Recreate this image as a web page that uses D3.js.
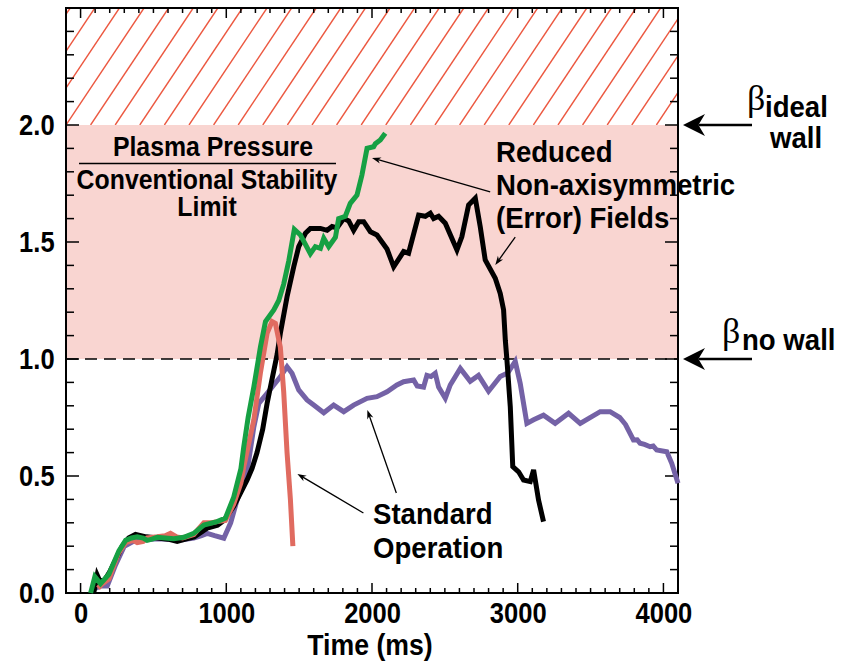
<!DOCTYPE html>
<html>
<head>
<meta charset="utf-8">
<script src="https://cdn.jsdelivr.net/npm/d3@7"></script>
<style>
  body { margin: 0; background: #fff; }
  text { font-family: "Liberation Sans", Arial, Helvetica, sans-serif; font-weight: bold; }
  .beta { font-family: "Liberation Serif", "DejaVu Serif", serif; font-weight: normal; }
</style>
</head>
<body>
<div id="chart"></div>
<script>
// beta / beta_no-wall traces, [time ms, value]
const reducedFields = [[69,0],[98,0.07],[137,0.04],[194,0.08],[263,0.18],[309,0.225],[350,0.235],[389,0.24],[430,0.235],[457,0.225],[490,0.23],[526,0.238],[580,0.235],[640,0.232],[709,0.238],[777,0.255],[846,0.29],[937,0.305],[994,0.32],[1051,0.41],[1100,0.53],[1120,0.625],[1150,0.75],[1189,0.88],[1234,1.05],[1269,1.16],[1326,1.21],[1360,1.25],[1394,1.32],[1429,1.42],[1467,1.554],[1509,1.53],[1577,1.45],[1611,1.48],[1646,1.473],[1669,1.516],[1703,1.48],[1749,1.52],[1771,1.6],[1817,1.61],[1851,1.665],[1897,1.70],[1931,1.786],[1966,1.90],[2011,1.907],[2023,1.92],[2057,1.936],[2091,1.965]];

const reducedFieldsNoWall = [[90,0],[114,0.077],[126,0.06],[160,0.05],[200,0.09],[286,0.2],[330,0.235],[377,0.25],[450,0.24],[530,0.235],[600,0.23],[663,0.22],[720,0.23],[780,0.24],[869,0.277],[940,0.29],[983,0.31],[1051,0.37],[1100,0.43],[1143,0.483],[1177,0.533],[1211,0.6],[1250,0.7],[1280,0.81],[1303,0.88],[1349,1.02],[1371,1.11],[1417,1.266],[1463,1.394],[1497,1.48],[1543,1.537],[1577,1.558],[1646,1.558],[1692,1.55],[1726,1.566],[1760,1.56],[1806,1.6],[1840,1.59],[1874,1.55],[1909,1.587],[1943,1.587],[1989,1.544],[2034,1.53],[2103,1.47],[2149,1.394],[2217,1.459],[2251,1.452],[2320,1.615],[2366,1.61],[2400,1.623],[2423,1.6],[2457,1.61],[2503,1.58],[2583,1.466],[2617,1.523],[2663,1.658],[2709,1.687],[2743,1.565],[2777,1.423],[2846,1.345],[2880,1.28],[2903,1.21],[2915,1.08],[2926,0.996],[2949,0.796],[2966,0.54],[3006,0.518],[3040,0.483],[3086,0.476],[3109,0.526],[3143,0.397],[3177,0.305]];

const standardOp = [[120,0.02],[150,0.04],[195,0.06],[260,0.17],[310,0.215],[360,0.225],[389,0.215],[430,0.22],[457,0.235],[526,0.24],[580,0.245],[617,0.255],[660,0.24],[700,0.235],[777,0.25],[846,0.3],[900,0.3],[937,0.305],[994,0.31],[1051,0.38],[1100,0.47],[1120,0.54],[1189,0.74],[1234,0.94],[1280,1.11],[1314,1.16],[1337,1.152],[1371,1.05],[1394,0.86],[1417,0.6],[1440,0.4],[1457,0.2]];

const standardOpNoWall = [[100,0.02],[140,0.03],[183,0.03],[240,0.12],[300,0.2],[389,0.23],[450,0.228],[530,0.232],[600,0.23],[700,0.228],[777,0.235],[830,0.245],[869,0.255],[920,0.245],[983,0.234],[1030,0.3],[1074,0.397],[1110,0.46],[1143,0.52],[1189,0.71],[1223,0.81],[1280,0.853],[1326,0.889],[1371,0.924],[1417,0.967],[1451,0.939],[1497,0.868],[1554,0.825],[1600,0.803],[1669,0.77],[1737,0.803],[1806,0.775],[1874,0.803],[1966,0.832],[2034,0.839],[2103,0.86],[2171,0.889],[2217,0.903],[2286,0.91],[2310,0.885],[2354,0.88],[2377,0.93],[2405,0.925],[2434,0.939],[2457,0.88],[2503,0.832],[2537,0.889],[2606,0.96],[2674,0.905],[2731,0.93],[2800,0.862],[2880,0.925],[2931,0.94],[2983,0.99],[3017,0.896],[3063,0.725],[3109,0.74],[3177,0.76],[3257,0.725],[3349,0.768],[3429,0.725],[3566,0.775],[3634,0.775],[3700,0.75],[3740,0.72],[3794,0.654],[3820,0.655],[3840,0.64],[3870,0.635],[3909,0.625],[3930,0.628],[3954,0.611],[4023,0.604],[4057,0.554],[4100,0.469]];

const xTicks = [0, 1000, 2000, 3000, 4000];
const yTicks = [0.0, 0.5, 1.0, 1.5, 2.0];
const noWallLimit = 1.0;
const idealWallLimit = 2.0;

const margin = { top: 8, right: 175, bottom: 72, left: 66 };
const width = 853 - margin.left - margin.right;
const height = 665 - margin.top - margin.bottom;

const svg = d3.select("#chart")
  .append("svg")
  .attr("width", 853)
  .attr("height", 665)
  .append("g")
  .attr("transform", `translate(${margin.left},${margin.top})`);

const x = d3.scaleLinear().domain([-100, 4100]).range([0, width]);
const y = d3.scaleLinear().domain([0, 2.5]).range([height, 0]);

// stability regions
svg.append("rect")
  .attr("x", 0).attr("width", width)
  .attr("y", y(idealWallLimit)).attr("height", y(noWallLimit) - y(idealWallLimit))
  .attr("fill", "#f9d5d1");

svg.append("clipPath").attr("id", "hatchClip")
  .append("rect")
  .attr("x", 0).attr("y", 0)
  .attr("width", width).attr("height", y(idealWallLimit));

const hatchH = y(idealWallLimit);
const hatchStep = 24.6;
const hatch = svg.append("g").attr("clip-path", "url(#hatchClip)");
d3.range(-6, 30).forEach(i => {
  const x0 = i * hatchStep;
  hatch.append("line")
    .attr("x1", x0).attr("y1", hatchH)
    .attr("x2", x0 + hatchH / 1.5).attr("y2", 0)
    .attr("stroke", "#ec5840").attr("stroke-width", 1.4);
});

svg.append("line")
  .attr("x1", 0).attr("x2", width)
  .attr("y1", y(noWallLimit)).attr("y2", y(noWallLimit))
  .attr("stroke", "#000").attr("stroke-width", 1.5)
  .attr("stroke-dasharray", "12,7");

// axes, ticks on all four sides pointing inwards
const xMinor = d3.range(0, 4101, 100);
const yMinor = d3.range(0, 2.51, 0.1).map(v => +v.toFixed(1));

function tickLen(isMajor) { return isMajor ? 10 : 5; }

const tickG = svg.append("g").attr("stroke", "#000").attr("stroke-width", 1.5);
xMinor.forEach(t => {
  const len = tickLen(t % 1000 === 0);
  tickG.append("line").attr("x1", x(t)).attr("x2", x(t)).attr("y1", height).attr("y2", height - len);
  tickG.append("line").attr("x1", x(t)).attr("x2", x(t)).attr("y1", 0).attr("y2", len);
});
yMinor.forEach(v => {
  const len = tickLen(Math.abs(v * 2 - Math.round(v * 2)) < 1e-6);
  tickG.append("line").attr("x1", 0).attr("x2", len + 3).attr("y1", y(v)).attr("y2", y(v));
  tickG.append("line").attr("x1", width).attr("x2", width - len - 3).attr("y1", y(v)).attr("y2", y(v));
});

const condensed = 0.88;
svg.append("g")
  .attr("transform", `translate(0,${height})`)
  .call(d3.axisBottom(x).tickValues(xTicks).tickSize(0).tickPadding(9).tickFormat(d3.format("d")))
  .call(g => g.select(".domain").remove())
  .call(g => g.selectAll("text").attr("font-size", 29).attr("fill", "#000").attr("dy", "0.72em")
    .attr("transform", `scale(${condensed},1)`));

svg.append("g")
  .call(d3.axisLeft(y).tickValues(yTicks).tickSize(0).tickPadding(13).tickFormat(d3.format(".1f")))
  .call(g => g.select(".domain").remove())
  .call(g => g.selectAll("text").attr("font-size", 29).attr("fill", "#000")
    .attr("transform", `scale(${condensed},1)`));

svg.append("rect")
  .attr("x", 0).attr("y", 0).attr("width", width).attr("height", height)
  .attr("fill", "none").attr("stroke", "#000").attr("stroke-width", 2);

// traces
const line = d3.line().x(d => x(d[0])).y(d => y(d[1]));
const traces = [
  { data: standardOpNoWall, color: "#7462a6", w: 5 },
  { data: reducedFieldsNoWall, color: "#000000", w: 5 },
  { data: standardOp, color: "#e06b60", w: 5 },
  { data: reducedFields, color: "#16a043", w: 5 }
];
traces.forEach(tr => {
  svg.append("path")
    .datum(tr.data)
    .attr("d", line)
    .attr("fill", "none")
    .attr("stroke", tr.color)
    .attr("stroke-width", tr.w)
    .attr("stroke-linejoin", "miter");
});

// annotations
function arrow(x1, y1, x2, y2, head, half, sw) {
  const ang = Math.atan2(y2 - y1, x2 - x1);
  const bx = x2 - head * Math.cos(ang), by = y2 - head * Math.sin(ang);
  svg.append("line")
    .attr("x1", x1).attr("y1", y1).attr("x2", bx + 0.3 * head * Math.cos(ang)).attr("y2", by + 0.3 * head * Math.sin(ang))
    .attr("stroke", "#000").attr("stroke-width", sw);
  const px = -Math.sin(ang), py = Math.cos(ang);
  const nx = x2 - 0.7 * head * Math.cos(ang), ny = y2 - 0.7 * head * Math.sin(ang);
  svg.append("path")
    .attr("d", `M${x2},${y2}L${bx + px * half},${by + py * half}L${nx},${ny}L${bx - px * half},${by - py * half}Z`)
    .attr("fill", "#000");
}

arrow(x(2811), y(1.714), x(2000), y(1.859), 9, 3.2, 1.3);
arrow(x(2983), y(1.521), x(2846), y(1.402), 9, 3.2, 1.3);
arrow(x(1941), y(0.342), x(1488), y(0.509), 9, 3.2, 1.3);
arrow(x(2167), y(0.427), x(1968), y(0.782), 9, 3.2, 1.3);

arrow(width + 74, y(idealWallLimit), width + 5, y(idealWallLimit), 22, 11, 2.5);
arrow(width + 74, y(noWallLimit), width + 5, y(noWallLimit), 22, 11, 2.5);

// multi-line label as one text element, slightly condensed like the original type
function label(lines, px, anchor, size, sx) {
  const t = svg.append("text")
    .attr("transform", `translate(${px - margin.left},${-margin.top}) scale(${sx},1)`)
    .attr("text-anchor", anchor).attr("font-size", size);
  lines.forEach(l => {
    t.append("tspan").attr("x", 0).attr("y", l[1]).text(l[0]);
  });
}

label([["Plasma Pressure", 156]], 213, "middle", 27, 0.92);
label([["Conventional Stability", 189], ["Limit", 216]], 207, "middle", 27, 0.92);
svg.append("line")
  .attr("x1", 79 - margin.left).attr("x2", 336 - margin.left)
  .attr("y1", 163.5 - margin.top).attr("y2", 163.5 - margin.top)
  .attr("stroke", "#000").attr("stroke-width", 1.5);

label([["Reduced", 162], ["Non-axisymmetric", 195], ["(Error) Fields", 228]], 496, "start", 30, 0.92);
label([["Standard", 524], ["Operation", 558]], 373, "start", 30, 0.92);
label([["Time (ms)", 655]], 370, "middle", 29, 0.92);

svg.append("text").attr("class", "beta")
  .attr("x", 747 - margin.left).attr("y", 110 - margin.top)
  .attr("font-size", 36).text("β");
label([["ideal", 117]], 765, "start", 30, 0.92);
label([["wall", 148]], 770, "start", 30, 0.92);

svg.append("text").attr("class", "beta")
  .attr("x", 722 - margin.left).attr("y", 343 - margin.top)
  .attr("font-size", 36).text("β");
label([["no wall", 350]], 742, "start", 30, 0.92);
</script>
</body>
</html>
